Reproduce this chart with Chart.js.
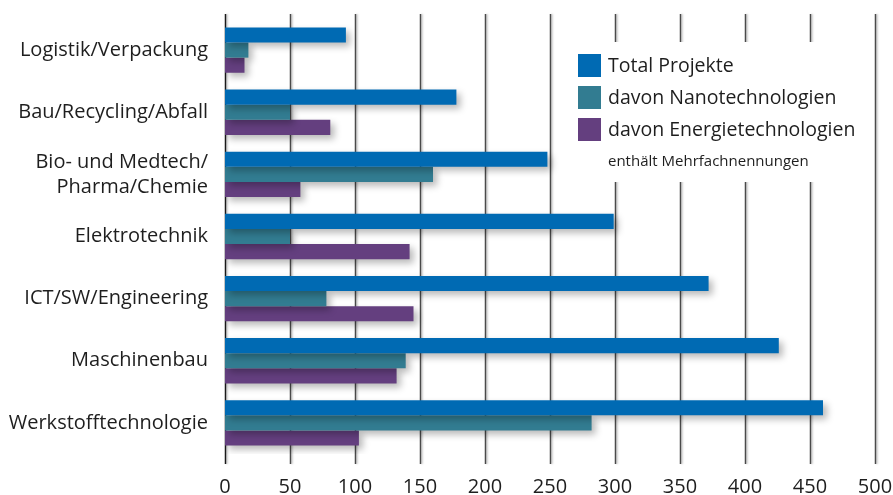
<!DOCTYPE html>
<html>
<head>
<meta charset="utf-8">
<script src="https://cdn.jsdelivr.net/npm/chart.js@4.4.1/dist/chart.umd.min.js"></script>
<style>
html,body{margin:0;padding:0;background:#fff;}
#wrap{width:893px;height:495px;position:relative;}
</style>
</head>
<body>
<div id="wrap"><canvas id="c" width="893" height="495"></canvas></div>
<script>
const categories = [
  "Logistik/Verpackung",
  "Bau/Recycling/Abfall",
  ["Bio- und Medtech/", "Pharma/Chemie"],
  "Elektrotechnik",
  "ICT/SW/Engineering",
  "Maschinenbau",
  "Werkstofftechnologie"
];
const totalProjekte = [93, 178, 248, 299, 372, 426, 460];
const nanoTech = [18, 50, 160, 50, 78, 139, 282];
const energieTech = [15, 81, 58, 142, 145, 132, 103];
const seriesLabels = ["Total Projekte", "davon Nanotechnologien", "davon Energietechnologien"];
const noteText = "enthält Mehrfachnennungen";
const xTicks = [0, 50, 100, 150, 200, 250, 300, 350, 400, 450, 500];

const COLORS = ["#006AB3", "#327C91", "#643F7F"];
const FONT = "'Open Sans', 'Noto Sans', sans-serif";

const gridPlugin = {
  id: 'fullGrid',
  beforeDatasetsDraw(chart) {
    const ctx = chart.ctx;
    const xs = chart.scales.x;
    ctx.save();
    xTicks.forEach(v => {
      const px = Math.round(xs.getPixelForValue(v)) + 0.5;
      ctx.shadowColor = 'rgba(0,0,0,0.25)';
      ctx.shadowBlur = 2;
      ctx.shadowOffsetX = 1.5;
      ctx.beginPath();
      ctx.moveTo(px, 14);
      ctx.lineTo(px, 464);
      ctx.lineWidth = 1.5;
      ctx.strokeStyle = v === 0 ? '#1a1a1a' : '#4a4a4a';
      ctx.stroke();
    });
    ctx.restore();
    ctx.save();
    ctx.shadowColor = 'rgba(0,0,0,0.28)';
    ctx.shadowBlur = 7;
    ctx.shadowOffsetX = 4;
    ctx.shadowOffsetY = 4;
  },
  afterDatasetsDraw(chart) {
    chart.ctx.restore();
  },
  afterDraw(chart) {
    const ctx = chart.ctx;
    ctx.save();
    ctx.fillStyle = '#fff';
    ctx.fillRect(566, 42, 303, 140);
    const rows = [65, 97, 129];
    chart.data.datasets.forEach((ds, i) => {
      ctx.fillStyle = ds.backgroundColor;
      ctx.fillRect(578, rows[i] - 11, 23, 23);
      ctx.fillStyle = '#1e1e1e';
      ctx.font = "19.5px " + FONT;
      ctx.textBaseline = 'middle';
      ctx.textAlign = 'left';
      ctx.fillText(ds.label, 608, rows[i] + 1);
    });
    ctx.font = "15px " + FONT;
    ctx.fillStyle = '#1e1e1e';
    ctx.fillText(noteText, 608, 162);
    ctx.restore();
  }
};

new Chart(document.getElementById('c'), {
  type: 'bar',
  data: {
    labels: categories,
    datasets: [
      { label: seriesLabels[0], data: totalProjekte, backgroundColor: COLORS[0] },
      { label: seriesLabels[1], data: nanoTech, backgroundColor: COLORS[1] },
      { label: seriesLabels[2], data: energieTech, backgroundColor: COLORS[2] }
    ]
  },
  options: {
    indexAxis: 'y',
    responsive: false,
    animation: false,
    devicePixelRatio: 1,
    layout: { padding: { top: 19, right: 18, left: 0, bottom: 0 } },
    datasets: { bar: { categoryPercentage: 0.73, barPercentage: 1.0, borderWidth: 0 } },
    plugins: { legend: { display: false }, tooltip: { enabled: false } },
    scales: {
      x: {
        type: 'linear',
        min: 0, max: 500,
        afterBuildTicks: s => { s.ticks = xTicks.map(v => ({ value: v })); },
        afterFit: s => { s.height = 41; s.paddingLeft = 0; s.paddingRight = 0; },
        grid: { display: false, drawTicks: false },
        border: { display: false },
        ticks: { color: '#1e1e1e', font: { family: FONT, size: 20 }, padding: 21 }
      },
      y: {
        afterFit: s => { s.width = 225; s.paddingTop = 0; s.paddingBottom = 0; },
        grid: { display: false, drawTicks: false },
        border: { display: false },
        ticks: { color: '#1e1e1e', font: { family: FONT, size: 20, lineHeight: 1.25 }, padding: 17, autoSkip: false }
      }
    }
  },
  plugins: [gridPlugin]
});
</script>
</body>
</html>
